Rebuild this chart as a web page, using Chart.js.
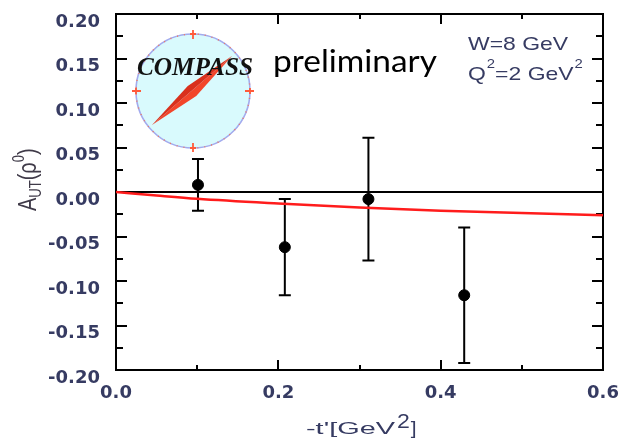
<!DOCTYPE html>
<html>
<head>
<meta charset="utf-8">
<script src="https://cdn.jsdelivr.net/npm/chart.js@4.4.1/dist/chart.umd.min.js"></script>
<style>
  html, body { margin: 0; padding: 0; background: #ffffff; }
  #wrap { width: 633px; height: 444px; }
</style>
</head>
<body>
<div id="wrap"><canvas id="c" width="633" height="444"></canvas></div>
<script>
// -t' bins and measured transverse target spin asymmetry of rho0 production
const tPrime = [0.101, 0.208, 0.311, 0.429];
const asym = [0.008, -0.062, -0.008, -0.116];
const asymErr = [0.029, 0.054, 0.069, 0.076];

// model prediction (W = 8 GeV, Q^2 = 2 GeV^2)
const modelT = [0, 0.05, 0.1, 0.2, 0.3, 0.4, 0.5, 0.6];
const modelA = [0, -0.004, -0.0077, -0.013, -0.0175, -0.021, -0.0237, -0.026];

// axis ticks
const xTicks = [0, 0.2, 0.4, 0.6];
const xTickLabels = ['0.0', '0.2', '0.4', '0.6'];
const yTicks = [-0.2, -0.15, -0.1, -0.05, 0, 0.05, 0.1, 0.15, 0.2];
const yTickLabels = ['-0.20', '-0.15', '-0.10', '-0.05', '0.00', '0.05', '0.10', '0.15', '0.20'];

const LABEL_COLOR = '#363b62';
const TICK_FONT = { family: '"DejaVu Sans", sans-serif', size: 18, weight: 'bold' };

// minor ticks sit halfway between major ones
function minorsOf(arr) {
  const out = [];
  for (let i = 0; i < arr.length - 1; i++) out.push((arr[i] + arr[i + 1]) / 2);
  return out;
}

// draws a run of text pieces left to right, each optionally raised/lowered,
// with a horizontal stretch factor
function drawRun(ctx, parts, x, y, sx, color) {
  ctx.save();
  ctx.fillStyle = color;
  ctx.textBaseline = 'alphabetic';
  ctx.textAlign = 'left';
  let cx = x;
  for (const p of parts) {
    ctx.font = p.font;
    ctx.save();
    ctx.translate(cx, y + (p.dy || 0));
    ctx.scale(sx, 1);
    ctx.fillText(p.t, 0, 0);
    ctx.restore();
    cx += ctx.measureText(p.t).width * sx + (p.gap || 0);
  }
  ctx.restore();
  return cx;
}

function textWidth(ctx, t, font) {
  ctx.save();
  ctx.font = font;
  const w = ctx.measureText(t).width;
  ctx.restore();
  return w;
}

// frame, inward ticks, zero line and error bars
const framePlugin = {
  id: 'frame',
  beforeDatasetsDraw(chart) {
    const { ctx, chartArea: a, scales: { x, y } } = chart;
    ctx.save();
    ctx.strokeStyle = '#000';
    ctx.lineWidth = 2;
    ctx.strokeRect(a.left, a.top, a.right - a.left, a.bottom - a.top);

    ctx.lineWidth = 2;
    ctx.beginPath();
    const yMaj = 11, yMin = 7, xMaj = 10, xMin = 5;
    yTicks.forEach(v => {
      const py = Math.round(y.getPixelForValue(v));
      ctx.moveTo(a.left, py); ctx.lineTo(a.left + yMaj, py);
      ctx.moveTo(a.right, py); ctx.lineTo(a.right - yMaj, py);
    });
    minorsOf(yTicks).forEach(v => {
      const py = Math.round(y.getPixelForValue(v));
      ctx.moveTo(a.left, py); ctx.lineTo(a.left + yMin, py);
      ctx.moveTo(a.right, py); ctx.lineTo(a.right - yMin, py);
    });
    xTicks.forEach(v => {
      const px = Math.round(x.getPixelForValue(v));
      ctx.moveTo(px, a.bottom); ctx.lineTo(px, a.bottom - xMaj);
      ctx.moveTo(px, a.top); ctx.lineTo(px, a.top + xMaj);
    });
    minorsOf(xTicks).forEach(v => {
      const px = Math.round(x.getPixelForValue(v));
      ctx.moveTo(px, a.bottom); ctx.lineTo(px, a.bottom - xMin);
      ctx.moveTo(px, a.top); ctx.lineTo(px, a.top + xMin);
    });
    ctx.stroke();

    // zero line
    const y0 = y.getPixelForValue(0);
    ctx.lineWidth = 2;
    ctx.beginPath();
    ctx.moveTo(a.left, y0); ctx.lineTo(a.right, y0);
    ctx.stroke();

    // error bars
    ctx.lineWidth = 2;
    ctx.beginPath();
    tPrime.forEach((t, i) => {
      const px = x.getPixelForValue(t);
      const hi = y.getPixelForValue(asym[i] + asymErr[i]);
      const lo = y.getPixelForValue(asym[i] - asymErr[i]);
      ctx.moveTo(px, hi); ctx.lineTo(px, lo);
      ctx.moveTo(px - 6, hi); ctx.lineTo(px + 6, hi);
      ctx.moveTo(px - 6, lo); ctx.lineTo(px + 6, lo);
    });
    ctx.stroke();
    ctx.restore();
  }
};

// experiment logo, annotations and axis titles
const decorPlugin = {
  id: 'decor',
  afterDatasetsDraw(chart) {
    const { ctx, chartArea: a } = chart;
    ctx.save();

    // logo disc
    const cx = a.left + 77, cy = a.top + 77, r = 57;
    ctx.beginPath();
    ctx.arc(cx, cy, r, 0, Math.PI * 2);
    ctx.fillStyle = '#d9fafd';
    ctx.fill();
    ctx.lineWidth = 1.6;
    ctx.strokeStyle = '#a3abee';
    ctx.stroke();
    ctx.setLineDash([1, 6]);
    ctx.strokeStyle = '#f07860';
    ctx.lineWidth = 1.4;
    ctx.stroke();
    ctx.setLineDash([]);

    // cardinal marks
    ctx.strokeStyle = '#ff5a3a';
    ctx.lineWidth = 1.8;
    ctx.beginPath();
    [[0, -1], [0, 1], [-1, 0], [1, 0]].forEach(([dx, dy]) => {
      const ox = cx + dx * r, oy = cy + dy * r;
      ctx.moveTo(ox - dx * 5, oy - dy * 5);
      ctx.lineTo(ox + dx * 4, oy + dy * 4);
      ctx.moveTo(ox - dy * 3, oy - dx * 3);
      ctx.lineTo(ox + dy * 3, oy + dx * 3);
    });
    ctx.stroke();

    // needle
    const tail = [cx - 41, cy + 34], tip = [cx + 39, cy - 35];
    const mid = [cx - 1, cy];
    const ux = tip[0] - tail[0], uy = tip[1] - tail[1];
    const len = Math.hypot(ux, uy);
    const nx = -uy / len * 6.5, ny = ux / len * 6.5;
    ctx.fillStyle = '#f2452a';
    ctx.beginPath();
    ctx.moveTo(tail[0], tail[1]);
    ctx.lineTo(mid[0] + nx, mid[1] + ny);
    ctx.lineTo(tip[0], tip[1]);
    ctx.closePath();
    ctx.fill();
    ctx.fillStyle = '#d9301c';
    ctx.beginPath();
    ctx.moveTo(tail[0], tail[1]);
    ctx.lineTo(mid[0] - nx, mid[1] - ny);
    ctx.lineTo(tip[0], tip[1]);
    ctx.closePath();
    ctx.fill();

    // COMPASS wordmark
    const cf = 'italic bold 25px "Liberation Serif", serif';
    const cw = textWidth(ctx, 'COMPASS', cf);
    drawRun(ctx, [{ t: 'COMPASS', font: cf }], a.left + 21, a.top + 61, 116 / cw, '#111');

    // preliminary
    const pf = '30px Lato, sans-serif';
    const pw = textWidth(ctx, 'preliminary', pf);
    drawRun(ctx, [{ t: 'preliminary', font: pf }], a.left + 157, a.top + 58, 164 / pw, '#000');

    // kinematics
    const kf = '18.5px "Liberation Sans", Arial, sans-serif';
    const ks = '12px "Liberation Sans", Arial, sans-serif';
    drawRun(ctx, [{ t: 'W=8 GeV', font: kf }], 468, 50, 1.24, LABEL_COLOR);
    drawRun(ctx, [
      { t: 'Q', font: kf, gap: 1 },
      { t: '2', font: ks, dy: -12 },
      { t: '=2 GeV', font: kf, gap: 1 },
      { t: '2', font: ks, dy: -12 }
    ], 468, 80, 1.24, LABEL_COLOR);

    // x axis title
    const xf = '16.5px "Liberation Sans", Arial, sans-serif';
    const xw = textWidth(ctx, "-t'[GeV", xf);
    let ex = drawRun(ctx, [{ t: "-t'[GeV", font: xf }], 306, 434, 89 / xw, LABEL_COLOR);
    ex = drawRun(ctx, [{ t: '2', font: '21px "Liberation Sans", Arial, sans-serif' }], ex + 2, 428, 1.1, LABEL_COLOR);
    drawRun(ctx, [{ t: ']', font: '19px "Liberation Sans", Arial, sans-serif' }], ex + 1, 434, 1.1, LABEL_COLOR);

    // y axis title, reading upwards
    ctx.save();
    ctx.translate(36, 211);
    ctx.scale(1.3, 1);
    ctx.rotate(-Math.PI / 2);
    const yf = '20px "Liberation Sans", Arial, sans-serif';
    const ysf = '13px "Liberation Sans", Arial, sans-serif';
    drawRun(ctx, [
      { t: 'A', font: yf },
      { t: 'UT', font: ysf, dy: 4 },
      { t: '(', font: yf },
      { t: 'ρ', font: yf },
      { t: '0', font: ysf, dy: -9 },
      { t: ')', font: yf }
    ], 0, 0, 1, '#3f3a48');
    ctx.restore();

    ctx.restore();
  }
};

new Chart(document.getElementById('c'), {
  type: 'scatter',
  data: {
    datasets: [
      {
        type: 'line',
        label: 'model',
        data: modelT.map((t, i) => ({ x: t, y: modelA[i] })),
        borderColor: '#ff1c1c',
        borderWidth: 2.5,
        pointRadius: 0,
        cubicInterpolationMode: 'monotone',
        fill: false,
        order: 2
      },
      {
        label: 'data',
        data: tPrime.map((t, i) => ({ x: t, y: asym[i] })),
        backgroundColor: '#000',
        borderColor: '#000',
        pointRadius: 5.5,
        pointHoverRadius: 5.5,
        order: 1
      }
    ]
  },
  options: {
    responsive: false,
    animation: false,
    devicePixelRatio: 1,
    events: [],
    layout: { padding: { left: 0, top: 14, right: 30, bottom: 0 } },
    plugins: { legend: { display: false }, tooltip: { enabled: false } },
    scales: {
      x: {
        type: 'linear',
        min: 0,
        max: 0.6,
        grid: { display: false },
        border: { display: false },
        afterBuildTicks: s => { s.ticks = xTicks.map(v => ({ value: v })); },
        afterFit: s => { s.height = 74; s.paddingLeft = 0; s.paddingRight = 0; },
        ticks: {
          autoSkip: false,
          maxRotation: 0,
          padding: 5,
          color: LABEL_COLOR,
          font: TICK_FONT,
          callback: (v, i) => xTickLabels[i]
        }
      },
      y: {
        type: 'linear',
        min: -0.2,
        max: 0.2,
        grid: { display: false },
        border: { display: false },
        afterBuildTicks: s => { s.ticks = yTicks.map(v => ({ value: v })); },
        afterFit: s => { s.width = 116; s.paddingTop = 0; s.paddingBottom = 0; },
        ticks: {
          autoSkip: false,
          padding: 8,
          labelOffset: 8,
          color: LABEL_COLOR,
          font: TICK_FONT,
          callback: (v, i) => yTickLabels[i]
        }
      }
    }
  },
  plugins: [framePlugin, decorPlugin]
});
</script>
</body>
</html>
